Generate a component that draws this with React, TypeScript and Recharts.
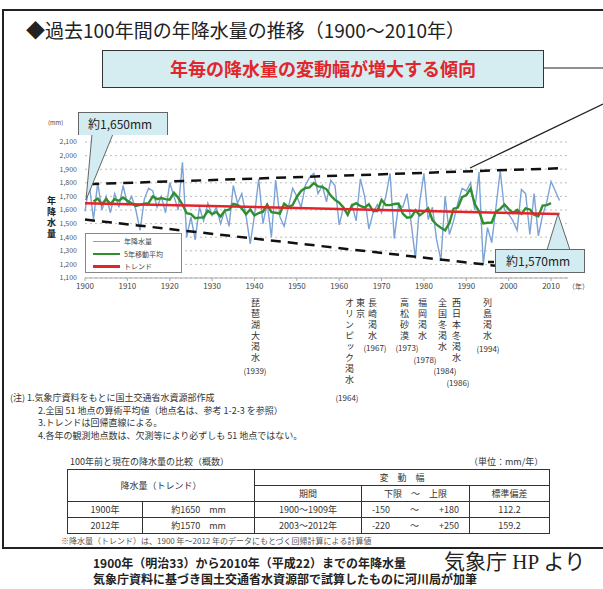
import { ComposedChart, Line, XAxis, YAxis, CartesianGrid, ReferenceLine } from 'recharts';

// annual precipitation, 51-station average (mm), 1900 .. 2012
const START_YEAR = 1900;
const annualRain = [
  1590, 1790, 1530, 1800, 1600, 1700, 1580, 1720, 1620, 1780,
  1640, 1700, 1600, 1450, 1680, 1760, 1740, 1620, 1700, 1580,
  1800, 1700, 1600, 1950, 1400, 1550, 1380, 1620, 1520, 1650,
  1560, 1620, 1500, 1600, 1480, 1780, 1650, 1720, 1560, 1350,
  1560, 1830, 1500, 1650, 1400, 1820, 1550, 1480, 1620, 1760,
  1700, 1620, 1780, 1840, 1870, 1720, 1780, 1660, 1820, 1780,
  1490, 1620, 1560, 1640, 1520, 1830, 1700, 1460, 1580, 1640,
  1580, 1700, 1870, 1390, 1640, 1620, 1720, 1500, 1240, 1660,
  1870, 1530, 1620, 1380, 1230, 1700, 1420, 1520, 1650, 1760,
  1740, 1800, 1600, 1880, 1200, 1470, 1360, 1620, 1890, 1600,
  1570, 1520, 1450, 1750, 1720, 1420, 1720, 1410, 1560, 1660,
  1810, 1740, 1670,
];

// 5-year moving average as drawn (1902 .. 2010)
const movingAvg = [
  null, null,
  1662, 1684, 1642, 1680, 1644, 1680, 1668, 1692,
  1668, 1650, 1630, 1638, 1646, 1650, 1700, 1680, 1688, 1680,
  1676, 1726, 1690, 1640, 1576, 1570, 1540, 1544, 1546, 1594,
  1570, 1586, 1552, 1596, 1602, 1646, 1638, 1612, 1568, 1604,
  1560, 1578, 1588, 1640, 1584, 1580, 1574, 1646, 1622, 1636,
  1696, 1740, 1762, 1766, 1798, 1774, 1770, 1752, 1706, 1674,
  1654, 1618, 1566, 1634, 1650, 1630, 1618, 1642, 1592, 1592,
  1674, 1636, 1636, 1644, 1648, 1574, 1544, 1548, 1598, 1560,
  1584, 1612, 1526, 1492, 1470, 1450, 1504, 1610, 1618, 1694,
  1710, 1756, 1644, 1590, 1502, 1506, 1508, 1588, 1608, 1640,
  1606, 1578, 1602, 1572, 1612, 1604, 1566, 1554, 1632, 1636,
  1650, null, null,
];

const xTicks = [1900, 1910, 1920, 1930, 1940, 1950, 1960, 1970, 1980, 1990, 2000, 2010];
const yTicks = [1100, 1200, 1300, 1400, 1500, 1600, 1700, 1800, 1900, 2000, 2100];

const trendEnds = [{ year: 1900, value: 1650 }, { year: 2012, value: 1570 }];
const upperBand = [{ year: 1901, value: 1790 }, { year: 2013, value: 1908 }];
const lowerBand = [{ year: 1900, value: 1530 }, { year: 1997, value: 1190 }];

const legendItems = [
  { name: '年降水量', color: '#7ba3d6', width: 1.5 },
  { name: '5年移動平均', color: '#2f8f2f', width: 2.5 },
  { name: 'トレンド', color: '#e5232b', width: 2.5 },
];

const notes = [
  '1.気象庁資料をもとに国土交通省水資源部作成',
  '2.全国 51 地点の算術平均値（地点名は、参考 1-2-3 を参照）',
  '3.トレンドは回帰直線による。',
  '4.各年の観測地点数は、欠測等により必ずしも 51 地点ではない。',
];

const tableRows = [
  ['1900年', '約1650　mm', '1900～1909年', '-150', '+180', '112.2'],
  ['2012年', '約1570　mm', '2003～2012年', '-220', '+250', '159.2'],
];

const data = annualRain.map((v, i) => ({ year: START_YEAR + i, rain: v, avg: movingAvg[i] }));

const JP = '"Noto Sans CJK JP", "Noto Sans", sans-serif';

function VCol({ x, y, text }: { x: number; y: number; text: string }) {
  return (
    <div
      style={{
        position: 'absolute', left: x - 5, top: y, writingMode: 'vertical-rl',
        fontSize: 9, lineHeight: '10px', letterSpacing: 2, color: '#333',
      }}
    >
      {text}
    </div>
  );
}

function Yr({ x, y, text }: { x: number; y: number; text: string }) {
  return (
    <div style={{ position: 'absolute', left: x - 20, top: y - 6, width: 40, textAlign: 'center', fontSize: 8, color: '#333' }}>
      {text}
    </div>
  );
}

export default function App() {
  const cell = { border: '1px solid #333', padding: 0, height: 15, textAlign: 'center' as const };
  return (
    <div style={{ position: 'absolute', left: 0, top: 0, width: 603, height: 589, background: '#fff', overflow: 'hidden', fontFamily: JP, color: '#222' }}>
      <ComposedChart width={603} height={300} data={data} margin={{ top: 142, right: 35, bottom: 0, left: 45 }} style={{ position: 'absolute', left: 0, top: 0 }}>
        <CartesianGrid vertical={false} stroke="#bdbdbd" strokeDasharray="2 3" />
        <XAxis
          dataKey="year" type="number" domain={[1900, 2014]} ticks={xTicks} height={22} interval={0}
          tick={{ fontSize: 8, fill: '#444' }} tickSize={3} tickMargin={2} stroke="#aaa"
        />
        <YAxis
          domain={[1100, 2100]} ticks={yTicks} width={40} axisLine={false} tickLine={false} interval={0}
          tick={{ fontSize: 7, fill: '#555' }} tickFormatter={(v: number) => v.toLocaleString('en-US')}
        />
        <Line type="linear" dataKey="rain" stroke="#7ba3d6" strokeWidth={1.4} dot={false} isAnimationActive={false} />
        <Line type="linear" dataKey="avg" stroke="#2f8f2f" strokeWidth={2.4} dot={false} connectNulls={false} isAnimationActive={false} />
        <ReferenceLine segment={[{ x: trendEnds[0].year, y: trendEnds[0].value }, { x: trendEnds[1].year, y: trendEnds[1].value }]} stroke="#e5232b" strokeWidth={2.5} />
        <ReferenceLine segment={[{ x: upperBand[0].year, y: upperBand[0].value }, { x: upperBand[1].year, y: upperBand[1].value }]} stroke="#111" strokeWidth={2.5} strokeDasharray="10 7" />
        <ReferenceLine segment={[{ x: lowerBand[0].year, y: lowerBand[0].value }, { x: lowerBand[1].year, y: lowerBand[1].value }]} stroke="#111" strokeWidth={2.5} strokeDasharray="10 7" />
      </ComposedChart>

      {/* frame, callout pointers and connector lines */}
      <svg width={603} height={589} style={{ position: 'absolute', left: 0, top: 0, pointerEvents: 'none' }}>
        <rect x={3} y={10} width={640} height={538} fill="none" stroke="#222" strokeWidth={2} />
        <line x1={544} y1={68} x2={603} y2={68} stroke="#222" strokeWidth={1.2} />
        <line x1={470} y1={168} x2={603} y2={104} stroke="#222" strokeWidth={1.2} />
        <polygon points="92,134 113,134 86,200" fill="#d3ecf1" stroke="none" />
        <polyline points="92,134 86,200 113,134" fill="none" stroke="#666" strokeWidth={1} />
        <polygon points="547,250 570,250 558,214" fill="#d3ecf1" stroke="none" />
        <polyline points="547,250 558,214 570,250" fill="none" stroke="#666" strokeWidth={1} />
        <line x1={488} y1={262} x2={494} y2={262} stroke="#111" strokeWidth={2.5} />
      </svg>

      {/* title */}
      <div style={{ position: 'absolute', left: 26, top: 19, fontSize: 19, lineHeight: '22px', whiteSpace: 'nowrap' }}>
        ◆過去100年間の年降水量の推移（1900～2010年）
      </div>
      <div
        style={{
          position: 'absolute', left: 102, top: 50, width: 442, height: 38, boxSizing: 'border-box',
          background: '#d5ecf1', border: '1.5px solid #333', textAlign: 'center', color: '#e0262b',
          fontWeight: 700, fontSize: 18, lineHeight: '35px',
        }}
      >
        年毎の降水量の変動幅が増大する傾向
      </div>

      {/* axis captions */}
      <div style={{ position: 'absolute', left: 48, top: 118, fontSize: 6, color: '#444' }}>(mm)</div>
      <div style={{ position: 'absolute', left: 45, top: 196, writingMode: 'vertical-rl', fontSize: 9, letterSpacing: 2, fontWeight: 700 }}>年降水量</div>
      <div style={{ position: 'absolute', left: 568, top: 281, fontSize: 7, color: '#444' }}>（年）</div>

      {/* callouts */}
      <div
        style={{
          position: 'absolute', left: 78, top: 112, width: 90, height: 23, boxSizing: 'border-box',
          background: '#d3ecf1', border: '1px solid #666', borderBottom: 'none', fontSize: 12, lineHeight: '22px', paddingLeft: 9,
        }}
      >
        約1,650mm
      </div>
      <div
        style={{
          position: 'absolute', left: 495, top: 249, width: 90, height: 24, boxSizing: 'border-box',
          background: '#d3ecf1', border: '1px solid #666', fontSize: 12, lineHeight: '22px', paddingLeft: 10,
        }}
      >
        約1,570mm
      </div>

      {/* legend */}
      <div
        style={{
          position: 'absolute', left: 85, top: 233, width: 97, height: 40, boxSizing: 'border-box',
          background: '#fff', border: '1px solid #888', paddingTop: 1,
        }}
      >
        {legendItems.map((it) => (
          <div key={it.name} style={{ display: 'flex', alignItems: 'center', height: 12.5 }}>
            <div style={{ width: 27, height: it.width, background: it.color, marginLeft: 7, marginRight: 4 }} />
            <span style={{ fontSize: 7, color: '#444' }}>{it.name}</span>
          </div>
        ))}
      </div>

      {/* drought events */}
      <VCol x={255} y={298} text="琵琶湖大渇水" />
      <Yr x={255} y={371} text="(1939)" />
      <VCol x={360} y={298} text="東京" />
      <VCol x={349} y={298} text="オリンピック渇水" />
      <Yr x={347} y={398} text="(1964)" />
      <VCol x={372} y={298} text="長崎渇水" />
      <Yr x={375} y={348} text="(1967)" />
      <VCol x={404} y={298} text="高松砂漠" />
      <Yr x={407} y={348} text="(1973)" />
      <VCol x={422} y={298} text="福岡渇水" />
      <Yr x={425} y={360} text="(1978)" />
      <VCol x={442} y={298} text="全国冬渇水" />
      <Yr x={445} y={371} text="(1984)" />
      <VCol x={456} y={298} text="西日本冬渇水" />
      <Yr x={458} y={383} text="(1986)" />
      <VCol x={487} y={298} text="列島渇水" />
      <Yr x={488} y={349} text="(1994)" />

      {/* notes */}
      <div style={{ position: 'absolute', left: 10, top: 392, fontSize: 9, lineHeight: '12.5px', color: '#333' }}>
        {notes.map((n, i) => (
          <div key={n} style={{ paddingLeft: i === 0 ? 0 : 28 }}>
            {i === 0 ? '(注) ' : ''}
            {n}
          </div>
        ))}
      </div>

      {/* comparison table */}
      <div style={{ position: 'absolute', left: 70, top: 455, fontSize: 9, color: '#333' }}>100年前と現在の降水量の比較（概数）</div>
      <div style={{ position: 'absolute', left: 469, top: 455, fontSize: 9, color: '#333' }}>（単位：mm/年）</div>
      <table
        style={{
          position: 'absolute', left: 67, top: 469, width: 482, borderCollapse: 'collapse', tableLayout: 'fixed',
          fontSize: 9, color: '#333', border: '1.5px solid #222',
        }}
      >
        <colgroup>
          <col style={{ width: 75 }} />
          <col style={{ width: 112 }} />
          <col style={{ width: 107 }} />
          <col style={{ width: 108 }} />
          <col style={{ width: 80 }} />
        </colgroup>
        <tbody>
          <tr>
            <td colSpan={2} rowSpan={2} style={cell}>降水量（トレンド）</td>
            <td colSpan={3} style={cell}>変　動　幅</td>
          </tr>
          <tr>
            <td style={cell}>期間</td>
            <td style={cell}>下限　～　上限</td>
            <td style={cell}>標準偏差</td>
          </tr>
          {tableRows.map((r) => (
            <tr key={r[0]}>
              <td style={cell}>{r[0]}</td>
              <td style={cell}>{r[1]}</td>
              <td style={cell}>{r[2]}</td>
              <td style={cell}>
                <div style={{ display: 'flex', justifyContent: 'space-around' }}>
                  <span>{r[3]}</span><span>～</span><span>{r[4]}</span>
                </div>
              </td>
              <td style={cell}>{r[5]}</td>
            </tr>
          ))}
        </tbody>
      </table>
      <div style={{ position: 'absolute', left: 61, top: 535, fontSize: 8, color: '#555', whiteSpace: 'nowrap' }}>
        ※降水量（トレンド）は、1900 年～2012 年のデータにもとづく回帰計算による計算値
      </div>

      {/* footer */}
      <div style={{ position: 'absolute', left: 93, top: 554, fontSize: 12, fontWeight: 700, whiteSpace: 'nowrap' }}>
        1900年（明治33）から2010年（平成22）までの年降水量
      </div>
      <div style={{ position: 'absolute', left: 93, top: 570, fontSize: 12, fontWeight: 700, whiteSpace: 'nowrap' }}>
        気象庁資料に基づき国土交通省水資源部で試算したものに河川局が加筆
      </div>
      <div style={{ position: 'absolute', left: 444, top: 545, fontSize: 21, fontFamily: '"Liberation Serif", "Noto Sans CJK JP", serif', whiteSpace: 'nowrap' }}>
        気象庁 HP より
      </div>
    </div>
  );
}
